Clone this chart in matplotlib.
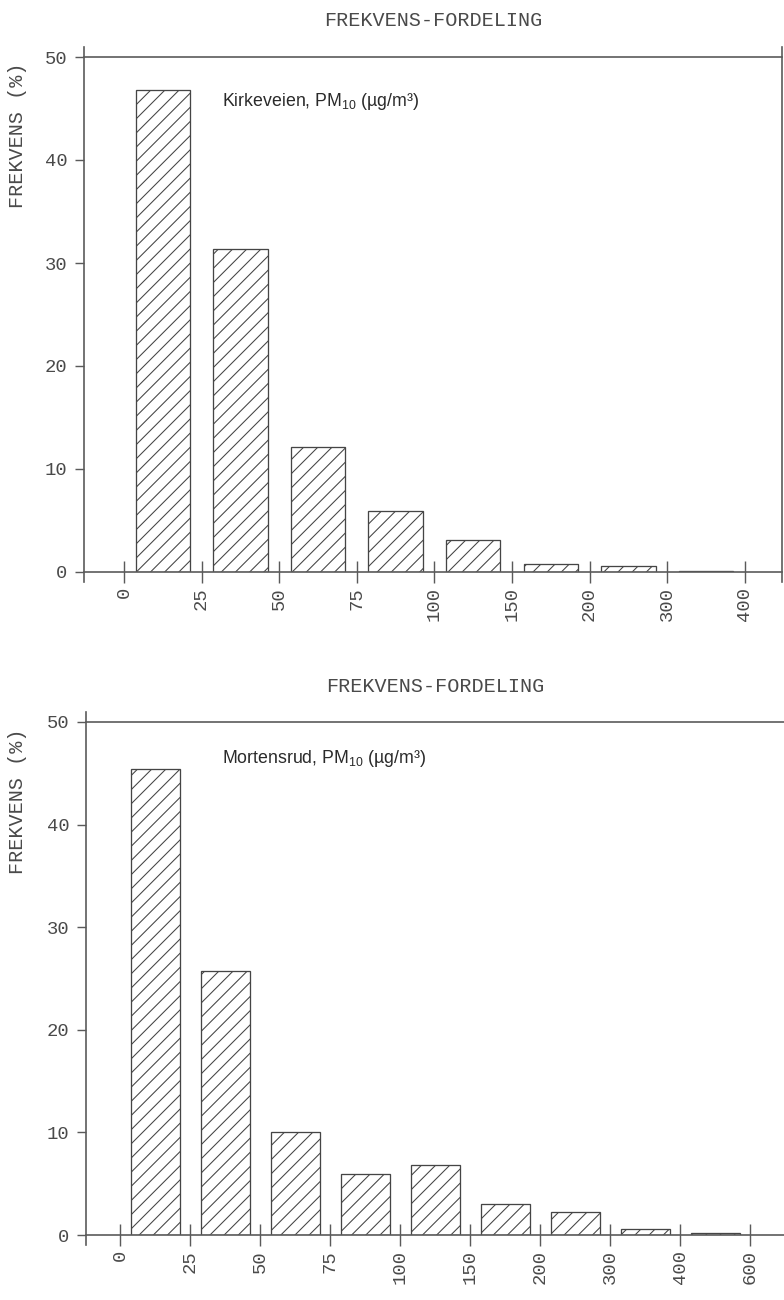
import matplotlib
matplotlib.use('Agg')
import matplotlib.pyplot as plt
import numpy as np

# class labels (lower bound of each concentration interval, ug/m3)
kirke_ticks = ['0', '25', '50', '75', '100', '150', '200', '300', '400']
kirke_freq = [46.8, 31.4, 12.1, 5.9, 3.1, 0.8, 0.55, 0.1]

morten_ticks = ['0', '25', '50', '75', '100', '150', '200', '300', '400', '600']
morten_freq = [45.4, 25.7, 10.0, 5.9, 6.8, 3.0, 2.25, 0.55, 0.15]

stations = ['Kirkeveien', 'Mortensrud']

DPI = 85
W, H = 785, 1300
LINE = '#5a5a5a'
TXT = '#4a4a4a'
MONO = 'Liberation Mono'

plt.rcParams['hatch.linewidth'] = 0.9
plt.rcParams['hatch.color'] = '#505050'

fig = plt.figure(figsize=(W / DPI, H / DPI), dpi=DPI)


def px_box(left, right, top, bottom):
    return [left / W, 1 - bottom / H, (right - left) / W, (bottom - top) / H]


def hist_panel(box, ticks, freq, xl, xr, station, txt_xy, title_y):
    ax = fig.add_axes(px_box(*box))
    n = len(freq)
    xs = np.arange(n) + 0.5
    ax.bar(xs, freq, width=0.7, facecolor='white', edgecolor='#454545',
           hatch='//', linewidth=1.1, zorder=2)
    ax.set_xlim(xl, xr)
    ax.set_ylim(0, 50)

    for s in ax.spines.values():
        s.set_color(LINE)
        s.set_linewidth(1.4)
    ax.spines['left'].set_bounds(-1.0, 51.0)
    ax.spines['right'].set_bounds(-1.0, 51.0)

    ax.set_xticks(np.arange(len(ticks)))
    ax.set_xticklabels(ticks, rotation=90, va='top', ha='center',
                       family=MONO, fontsize=16, color=TXT)
    ax.tick_params(axis='x', direction='inout', length=19, width=1.2,
                   color=LINE, pad=3)
    ax.set_yticks(np.arange(0, 51, 10))
    ax.set_yticklabels([str(v) for v in range(0, 51, 10)],
                       family=MONO, fontsize=16, color=TXT)
    ax.tick_params(axis='y', direction='out', length=8, width=1.2,
                   color=LINE, pad=6)

    ax.text(txt_xy[0] / W, 1 - txt_xy[1] / H,
            station + r', PM$_{\mathregular{10}}$ (µg/m³)',
            transform=fig.transFigure, ha='left', va='center',
            family='Liberation Sans', fontsize=15, color='#2a2a2a')

    fig.text((box[0] + box[1]) / 2 / W, 1 - title_y / H, 'FREKVENS-FORDELING',
             ha='center', va='center', family=MONO, fontsize=17, color=TXT)
    fig.text(18 / W, 1 - (box[2] + 6) / H, 'FREKVENS (%)', rotation=90,
             ha='center', va='top', family=MONO, fontsize=17, color=TXT)
    return ax


hist_panel((84, 782, 57, 572), kirke_ticks, kirke_freq, -0.515, 8.48,
           stations[0], (222, 101), 21)
hist_panel((86, 785, 722, 1235), morten_ticks, morten_freq, -0.486, 9.5,
           stations[1], (222, 759), 686)

fig.savefig('out.png', dpi=DPI)
